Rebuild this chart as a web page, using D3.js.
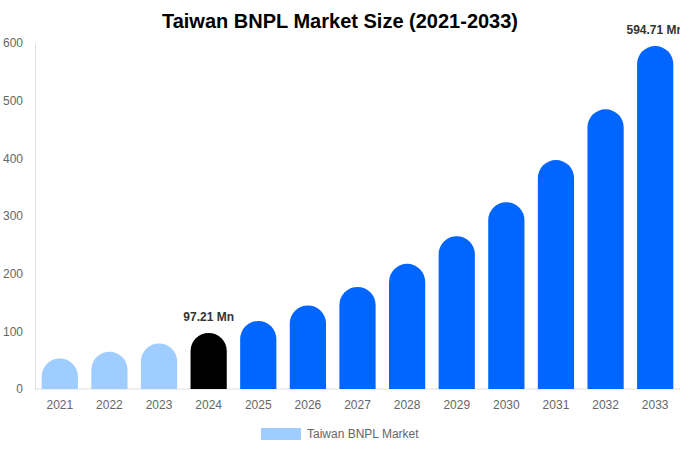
<!DOCTYPE html>
<html>
<head>
<meta charset="utf-8">
<script src="https://cdn.jsdelivr.net/npm/d3@7"></script>
<style>
  body { margin: 0; background: #fff; }
  svg { font-family: "Liberation Sans", Arial, sans-serif; display: block; }
</style>
</head>
<body>
<svg id="chart" width="680" height="450"></svg>
<script>
// data
var years = ["2021", "2022", "2023", "2024", "2025", "2026", "2027", "2028", "2029", "2030", "2031", "2032", "2033"];
var values = [53, 64.5, 79, 97.21, 118, 145, 177, 217, 265, 324, 397, 485, 594.71];
var yTicks = [0, 100, 200, 300, 400, 500, 600];
var labelled = { "2024": "97.21 Mn", "2033": "594.71 Mn" };

var svg = d3.select("#chart");
var plotLeft = 35, plotRight = 680, plotTop = 43, plotBottom = 389;

var x = d3.scaleBand().domain(years).range([plotLeft, plotRight]).paddingInner(0.27).paddingOuter(0.135);
var y = d3.scaleLinear().domain([0, 600]).range([plotBottom, plotTop]);

function barColor(yr) {
    if (+yr < 2024) return "#a0cdff";
    if (+yr == 2024) return "#000000";
    return "#0066ff";
}

svg.append("text")
    .attr("x", 340).attr("y", 28)
    .attr("text-anchor", "middle")
    .attr("font-size", 20).attr("font-weight", "bold")
    .attr("fill", "#000")
    .text("Taiwan BNPL Market Size (2021-2033)");

// y axis labels, no ticks
var yAxis = svg.append("g").attr("transform", "translate(" + plotLeft + ",0)")
    .call(d3.axisLeft(y).tickValues(yTicks).tickSize(0).tickPadding(12));
yAxis.select(".domain").attr("stroke", "#e0e0e0");
yAxis.selectAll("text").attr("font-size", 12).attr("fill", "#666")
    .attr("font-family", "Liberation Sans, Arial, sans-serif");

var xAxis = svg.append("g").attr("transform", "translate(0," + plotBottom + ")")
    .call(d3.axisBottom(x).tickSize(0).tickPadding(11));
xAxis.select(".domain").attr("stroke", "#e0e0e0").attr("d", "M" + plotLeft + ",0H" + plotRight);
xAxis.selectAll("text").attr("font-size", 12).attr("fill", "#666")
    .attr("font-family", "Liberation Sans, Arial, sans-serif");

// bars with round tops
function barPath(yr, v) {
    var x0 = x(yr), w = x.bandwidth(), r = w / 2;
    var yt = y(v);
    return "M" + x0 + "," + plotBottom +
        "V" + (yt + r) +
        "A" + r + "," + r + " 0 0 1 " + (x0 + w) + "," + (yt + r) +
        "V" + plotBottom + "Z";
}

svg.append("g").selectAll("path")
    .data(years)
    .enter().append("path")
    .attr("d", function (d, i) { return barPath(d, values[i]); })
    .attr("fill", function (d) { return barColor(d); });

svg.append("g").selectAll("text")
    .data(years.filter(function (d) { return labelled[d]; }))
    .enter().append("text")
    .attr("x", function (d) { return x(d) + x.bandwidth() / 2; })
    .attr("y", function (d) { return y(values[years.indexOf(d)]) - 12; })
    .attr("text-anchor", "middle")
    .attr("font-size", 12).attr("font-weight", "bold")
    .attr("fill", "#333")
    .text(function (d) { return labelled[d]; });

// legend
var lg = svg.append("g").attr("transform", "translate(261,428)");
lg.append("rect").attr("width", 40).attr("height", 12).attr("fill", "#a0cdff");
lg.append("text").attr("x", 46).attr("y", 10)
    .attr("font-size", 12).attr("fill", "#666")
    .text("Taiwan BNPL Market");
</script>
</body>
</html>
